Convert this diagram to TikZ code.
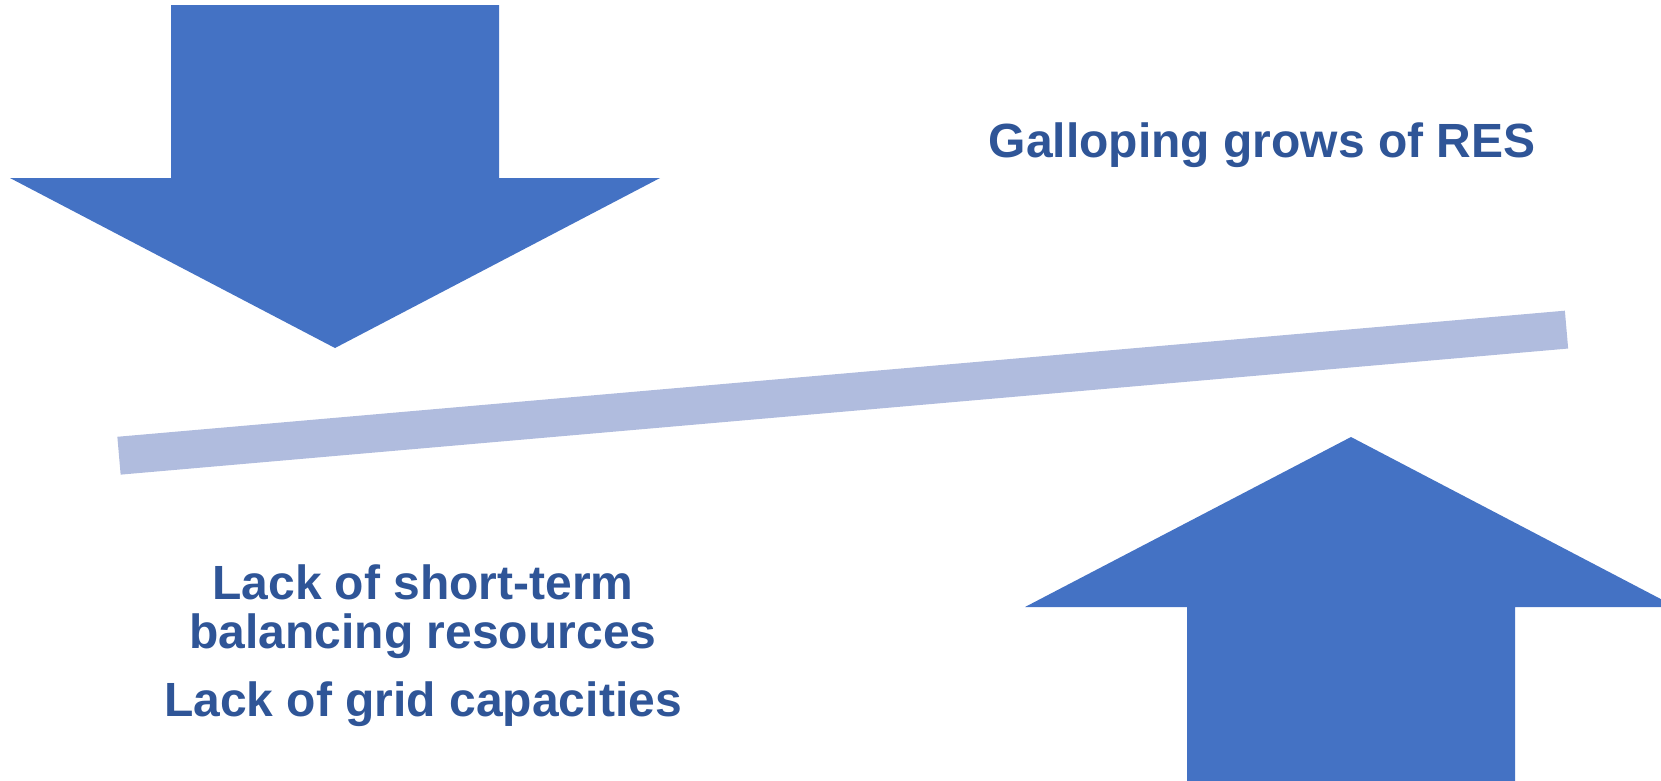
\documentclass[tikz,border=0pt]{standalone}
\usepackage{fontspec}
\setmainfont{Liberation Sans}
\usetikzlibrary{positioning}
\definecolor{arrowblue}{HTML}{4472C4}
\definecolor{barblue}{HTML}{B0BCDE}
\definecolor{textblue}{HTML}{2F5597}

\begin{document}
\begin{tikzpicture}[x=1pt,y=-1pt,
  bigarrow/.style={fill=arrowblue},
  beam/.style={draw=barblue,line width=38pt},
  caption/.style={textblue,font=\fontsize{48}{50}\selectfont\bfseries,inner sep=0pt,anchor=base}]
\useasboundingbox (0,0) rectangle (1661,780);
\clip (0,0) rectangle (1661,780);
% pressure from above
\fill[bigarrow] (171,5) -- (499,5) -- (499,178) -- (660,178) -- (335,348)
  -- (10,178) -- (171,178) -- cycle;
% support from below
\fill[bigarrow] (1187,790) -- (1515,790) -- (1515,607) -- (1676,607) -- (1351,437)
  -- (1025,607) -- (1187,607) -- cycle;
% tilted beam
\draw[beam] (119,455.7) -- (1566.5,329.6);

\node[caption] (res) at (1262,157) {Galloping grows of RES};
\node[caption] (short) at (423,599) {Lack of short-term};
\node[caption] (bal) at (423,648.3) {balancing resources};
\node[caption] (grid) at (423,716.7) {Lack of grid capacities};
\end{tikzpicture}
\end{document}
